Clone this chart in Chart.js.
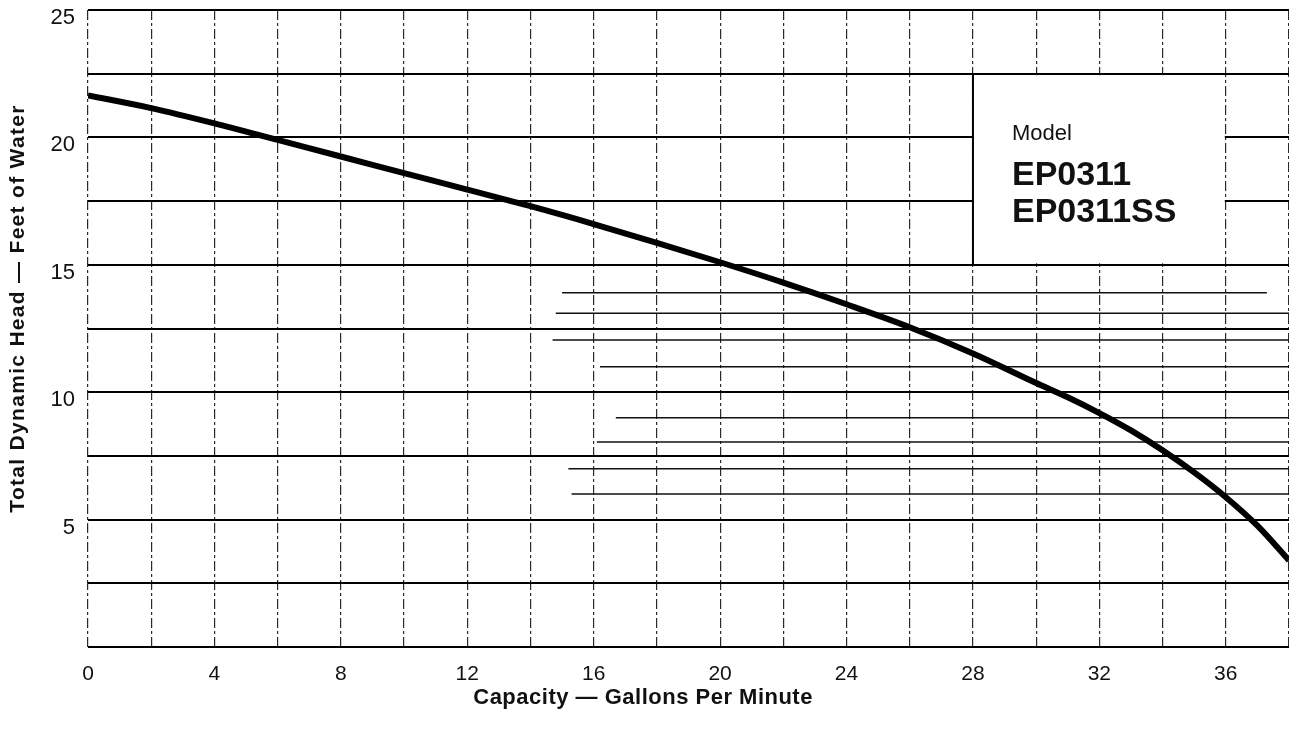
<!DOCTYPE html>
<html>
<head>
<meta charset="utf-8">
<title>EP0311 pump curve</title>
<script src="https://cdn.jsdelivr.net/npm/chart.js@4.4.1/dist/chart.umd.min.js"></script>
<style>
  html, body { margin: 0; padding: 0; background: #fff; }
  #wrap { width: 1289px; height: 729px; position: relative; }
</style>
</head>
<body>
<div id="wrap"><canvas id="pumpCurveCanvas"></canvas></div>
<script>
// capacity (gpm) and head (ft)
var capacityGpm = [0, 2, 4, 6, 8, 10, 12, 14, 16, 18, 20, 22, 24, 26, 28, 30, 31, 32, 33, 34, 35, 36, 37, 38];
var headFeet = [21.65, 21.15, 20.55, 19.9, 19.25, 18.6, 17.95, 17.3, 16.6, 15.86, 15.1, 14.3, 13.45, 12.55, 11.52, 10.36, 9.8, 9.18, 8.5, 7.72, 6.85, 5.88, 4.76, 3.4];

var modelLabels = ['Model', 'EP0311', 'EP0311SS'];
var xTitle = 'Capacity \u2014 Gallons Per Minute';
var yTitle = 'Total Dynamic Head \u2014 Feet of Water';

// thin stray rules that show on the scanned sheet
var strayLevels = [13.9, 13.1, 12.05, 11, 9, 8.05, 7, 6];
var strayStarts = [15, 14.8, 14.7, 16.2, 16.7, 16.1, 15.2, 15.3];
var strayEnds = [37.3, 38, 38, 38, 38, 38, 38, 38];

var FONT = '"Liberation Sans", Arial, Helvetica, sans-serif';

var datasets = [{
  label: 'EP0311',
  data: capacityGpm.map(function (c, i) { return { x: c, y: headFeet[i] }; }),
  borderColor: '#000',
  borderWidth: 6,
  pointRadius: 0,
  cubicInterpolationMode: 'monotone',
  fill: false
}];
strayLevels.forEach(function (lvl, i) {
  datasets.push({
    label: 'rule' + i,
    data: [{ x: strayStarts[i], y: lvl }, { x: strayEnds[i], y: lvl }],
    borderColor: '#111',
    borderWidth: 1.5,
    pointRadius: 0,
    fill: false
  });
});

var panelPlugin = {
  id: 'modelPanel',
  beforeDatasetsDraw: function (chart) {
    var ctx = chart.ctx, xs = chart.scales.x, ys = chart.scales.y;
    var left = xs.getPixelForValue(28), right = xs.getPixelForValue(36);
    var top = ys.getPixelForValue(22.5), bottom = ys.getPixelForValue(15);
    ctx.save();
    ctx.fillStyle = '#fff';
    ctx.fillRect(left + 1, top + 1.5, right - left - 2, bottom - top - 3);
    ctx.strokeStyle = '#000';
    ctx.lineWidth = 2;
    ctx.beginPath();
    ctx.moveTo(left, top);
    ctx.lineTo(left, bottom);
    ctx.stroke();
    ctx.fillStyle = '#111';
    ctx.textAlign = 'left';
    ctx.textBaseline = 'alphabetic';
    ctx.font = '22px ' + FONT;
    ctx.fillText(modelLabels[0], left + 39, top + 66);
    ctx.font = 'bold 34px ' + FONT;
    ctx.fillText(modelLabels[1], left + 39, top + 111);
    ctx.fillText(modelLabels[2], left + 39, top + 148);
    ctx.restore();
  },
  afterDraw: function (chart) {
    var ctx = chart.ctx, area = chart.chartArea;
    ctx.save();
    ctx.fillStyle = '#111';
    ctx.textAlign = 'center';
    ctx.textBaseline = 'middle';
    ctx.font = 'bold 22px ' + FONT;
    ctx.letterSpacing = '0.5px';
    ctx.fillText(xTitle, chart.scales.x.getPixelForValue(17.5) + 2, area.bottom + 51);
    ctx.translate(18, (area.top + area.bottom) / 2 - 20);
    ctx.rotate(-Math.PI / 2);
    ctx.font = 'bold 21px ' + FONT;
    ctx.letterSpacing = '1.3px';
    ctx.fillText(yTitle, 0, 0);
    ctx.restore();
  }
};

var ctx = document.getElementById('pumpCurveCanvas').getContext('2d');
var pumpChart = new Chart(ctx, {
  type: 'line',
  data: { datasets: datasets },
  options: {
    responsive: true,
    maintainAspectRatio: false,
    animation: false,
    layout: { padding: { top: 10, right: 0, left: 0, bottom: 0 } },
    plugins: {
      legend: { display: false },
      tooltip: { enabled: false }
    },
    scales: {
      x: {
        type: 'linear',
        min: 0,
        max: 38,
        afterFit: function (scale) {
          scale.height = 82;
          scale.paddingLeft = 0;
          scale.paddingRight = 0;
        },
        border: { display: false, dash: [10, 3, 3, 3] },
        grid: { color: '#2a2a2a', lineWidth: 1.2, drawTicks: false },
        ticks: {
          stepSize: 2,
          padding: 15,
          color: '#111',
          font: { family: FONT, size: 21 },
          maxRotation: 0,
          autoSkip: false,
          callback: function (v) { return v % 4 === 0 ? v : ''; }
        }
      },
      y: {
        min: 0,
        max: 25,
        afterFit: function (scale) {
          scale.width = 88;
          scale.paddingTop = 0;
          scale.paddingBottom = 0;
        },
        border: { display: false },
        grid: { color: '#000', lineWidth: 2, drawTicks: false },
        ticks: {
          stepSize: 2.5,
          padding: 13,
          labelOffset: 8,
          color: '#111',
          font: { family: FONT, size: 22 },
          callback: function (v) { return (v % 5 === 0 && v !== 0) ? v : ''; }
        }
      }
    }
  },
  plugins: [panelPlugin]
});
</script>
</body>
</html>
